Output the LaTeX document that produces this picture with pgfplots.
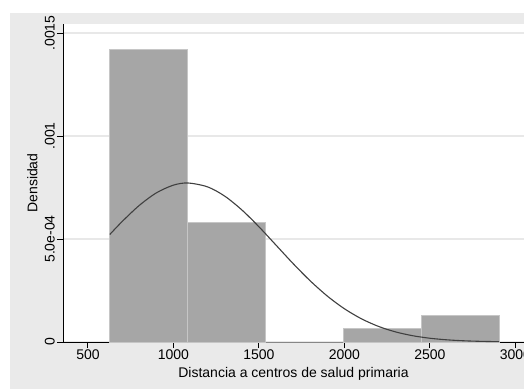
\documentclass[border=0pt]{standalone}
\usepackage{fontspec}
\setmainfont{Liberation Sans}
\usepackage{pgfplots}
\pgfplotsset{compat=1.18}
\definecolor{bg}{HTML}{EAEAEA}
\definecolor{barfill}{HTML}{A6A6A6}
\definecolor{baredge}{HTML}{C6C6C6}
\definecolor{gridc}{HTML}{E8E8E8}
\begin{document}
\begin{tikzpicture}[x=1pt,y=1pt]
\useasboundingbox (0,0) rectangle (524,389);
\fill[white] (0,0) rectangle (524,389);
\fill[bg] (10,0) rectangle (524,376);
\begin{axis}[
  at={(63pt,47pt)}, anchor=south west,
  scale only axis, width=461pt, height=318pt,
  xmin=354, xmax=3050, ymin=0, ymax=0.001544,
  axis x line=bottom, axis y line=left,
  axis line style={-, black, line width=1pt},
  axis background/.style={fill=white},
  tick align=outside, major tick length=6pt,
  tick style={black, line width=1pt},
  xtick={500,1000,1500,2000,2500,3000},
  xticklabels={500,1000,1500,2000,2500,3000},
  ytick={0,0.0005,0.001,0.0015},
  yticklabels={0,5.0e-04,.001,.0015},
  scaled y ticks=false, scaled x ticks=false,
  yticklabel style={rotate=90, anchor=south, inner sep=2pt},
  xticklabel style={inner sep=2pt},
  ymajorgrids, grid style={gridc, line width=1.5pt},
  font=\fontsize{14}{16}\selectfont,
  xlabel={Distancia a centros de salud primaria},
  ylabel={Densidad},
  xlabel style={at={(axis description cs:0.5,0)}, anchor=north, yshift=-22pt},
  ylabel style={at={(axis description cs:0,0.5)}, anchor=south, yshift=22pt},
  clip=false,
]
\addplot[ybar interval, fill=barfill, draw=baredge, line width=0.8pt] coordinates {
(628,0.0014208) (1083.5,0.0005813) (1539,0) (1994,0.00006458) (2450,0.00012917) (2905,0)};
\addplot[color=black!75, line width=1.1pt, smooth] coordinates {
(628,5.223e-4) (700,5.850e-4) (800,6.631e-4) (900,7.241e-4) (1000,7.617e-4)
(1085,7.720e-4) (1200,7.531e-4) (1300,7.081e-4) (1400,6.412e-4) (1500,5.594e-4)
(1600,4.701e-4) (1700,3.805e-4) (1800,2.967e-4) (1900,2.229e-4) (2000,1.613e-4)
(2100,1.124e-4) (2200,7.544e-5) (2300,4.878e-5) (2400,3.039e-5) (2500,1.824e-5)
(2600,1.054e-5) (2700,5.87e-6) (2800,3.15e-6) (2905,1.57e-6)};
\end{axis}
\end{tikzpicture}
\end{document}
